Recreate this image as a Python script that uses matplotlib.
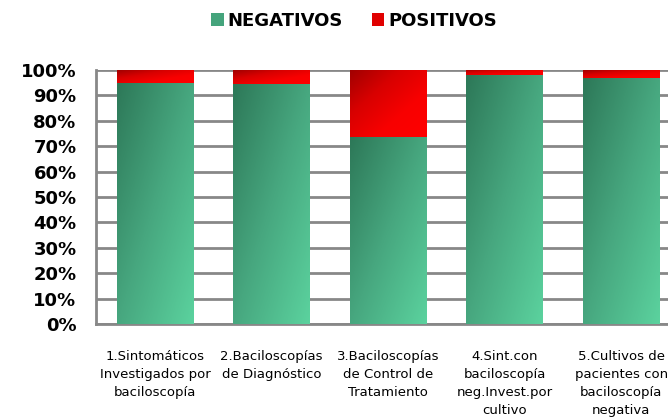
import matplotlib.pyplot as plt
import numpy as np
from matplotlib.colors import LinearSegmentedColormap
from matplotlib.patches import Patch

categorias = ["1.Sintomáticos\nInvestigados por\nbaciloscopía",
              "2.Baciloscopías\nde Diagnóstico",
              "3.Baciloscopías\nde Control de\nTratamiento",
              "4.Sint.con\nbaciloscopía\nneg.Invest.por\ncultivo",
              "5.Cultivos de\npacientes con\nbaciloscopía\nnegativa"]
negativos = [95.0, 94.5, 73.5, 98.0, 97.0]
positivos = [100 - v for v in negativos]
ticks = list(range(0, 101, 10))
tick_labels = ["%d%%" % t for t in ticks]

cmap_verde = LinearSegmentedColormap.from_list("v", ["#2d7858", "#47a77f", "#5bd29e"])
cmap_rojo = LinearSegmentedColormap.from_list("r", ["#a00000", "#d80000", "#f80000", "#ff0000"])

fig = plt.figure(figsize=(6.68, 4.19), dpi=100)
ax = fig.add_axes([96/668, 95/419, 1 - 96/668, 254/419])

x = np.arange(len(categorias))
ancho = 0.66


def degradado(barras, cmap):
    for b in barras:
        x0, y0 = b.get_x(), b.get_y()
        w, h = b.get_width(), b.get_height()
        if h <= 0:
            continue
        u, v = np.meshgrid(np.linspace(0, 1, 60), np.linspace(0, 1, 120))
        # oscuro arriba a la izquierda, claro abajo a la derecha
        z = (u + v) / 2
        im = ax.imshow(z, cmap=cmap, extent=(x0, x0 + w, y0, y0 + h), origin="upper",
                       aspect="auto", zorder=3, vmin=0, vmax=1)
        im.set_clip_path(b)
        b.set_facecolor("none")


b1 = ax.bar(x, negativos, ancho, color="#47a77f", zorder=2, linewidth=0)
b2 = ax.bar(x, positivos, ancho, bottom=negativos, color="#e00000", zorder=2, linewidth=0)
degradado(b1, cmap_verde)
degradado(b2, cmap_rojo)

ax.set_xlim(-0.506, 4.40)
ax.set_ylim(0, 100)
ax.set_yticks(ticks)
ax.set_yticklabels(tick_labels, fontsize=13, fontweight="bold")
ax.set_xticks(x)
ax.set_xticklabels(categorias, fontsize=9.5, linespacing=1.5, va="top")
ax.tick_params(axis="x", length=0, pad=19)
ax.tick_params(axis="y", length=0, pad=14)
ax.grid(axis="y", color="#888888", linewidth=2, zorder=1)
ax.set_axisbelow(True)
for s in ["top", "right"]:
    ax.spines[s].set_visible(False)
ax.spines["left"].set_color("#888888")
ax.spines["left"].set_linewidth(2)
ax.spines["bottom"].set_color("#888888")
ax.spines["bottom"].set_linewidth(2)

handles = [Patch(facecolor="#45a47c", label="NEGATIVOS"),
           Patch(facecolor="#e00000", label="POSITIVOS")]
fig.legend(handles=handles, loc="center", bbox_to_anchor=(0.53, 0.95), ncol=2,
           frameon=False, prop={"size": 13, "weight": "bold"},
           handlelength=0.7, handleheight=0.7, handletextpad=0.2, columnspacing=1.6)

fig.savefig("out.png", dpi=100)
